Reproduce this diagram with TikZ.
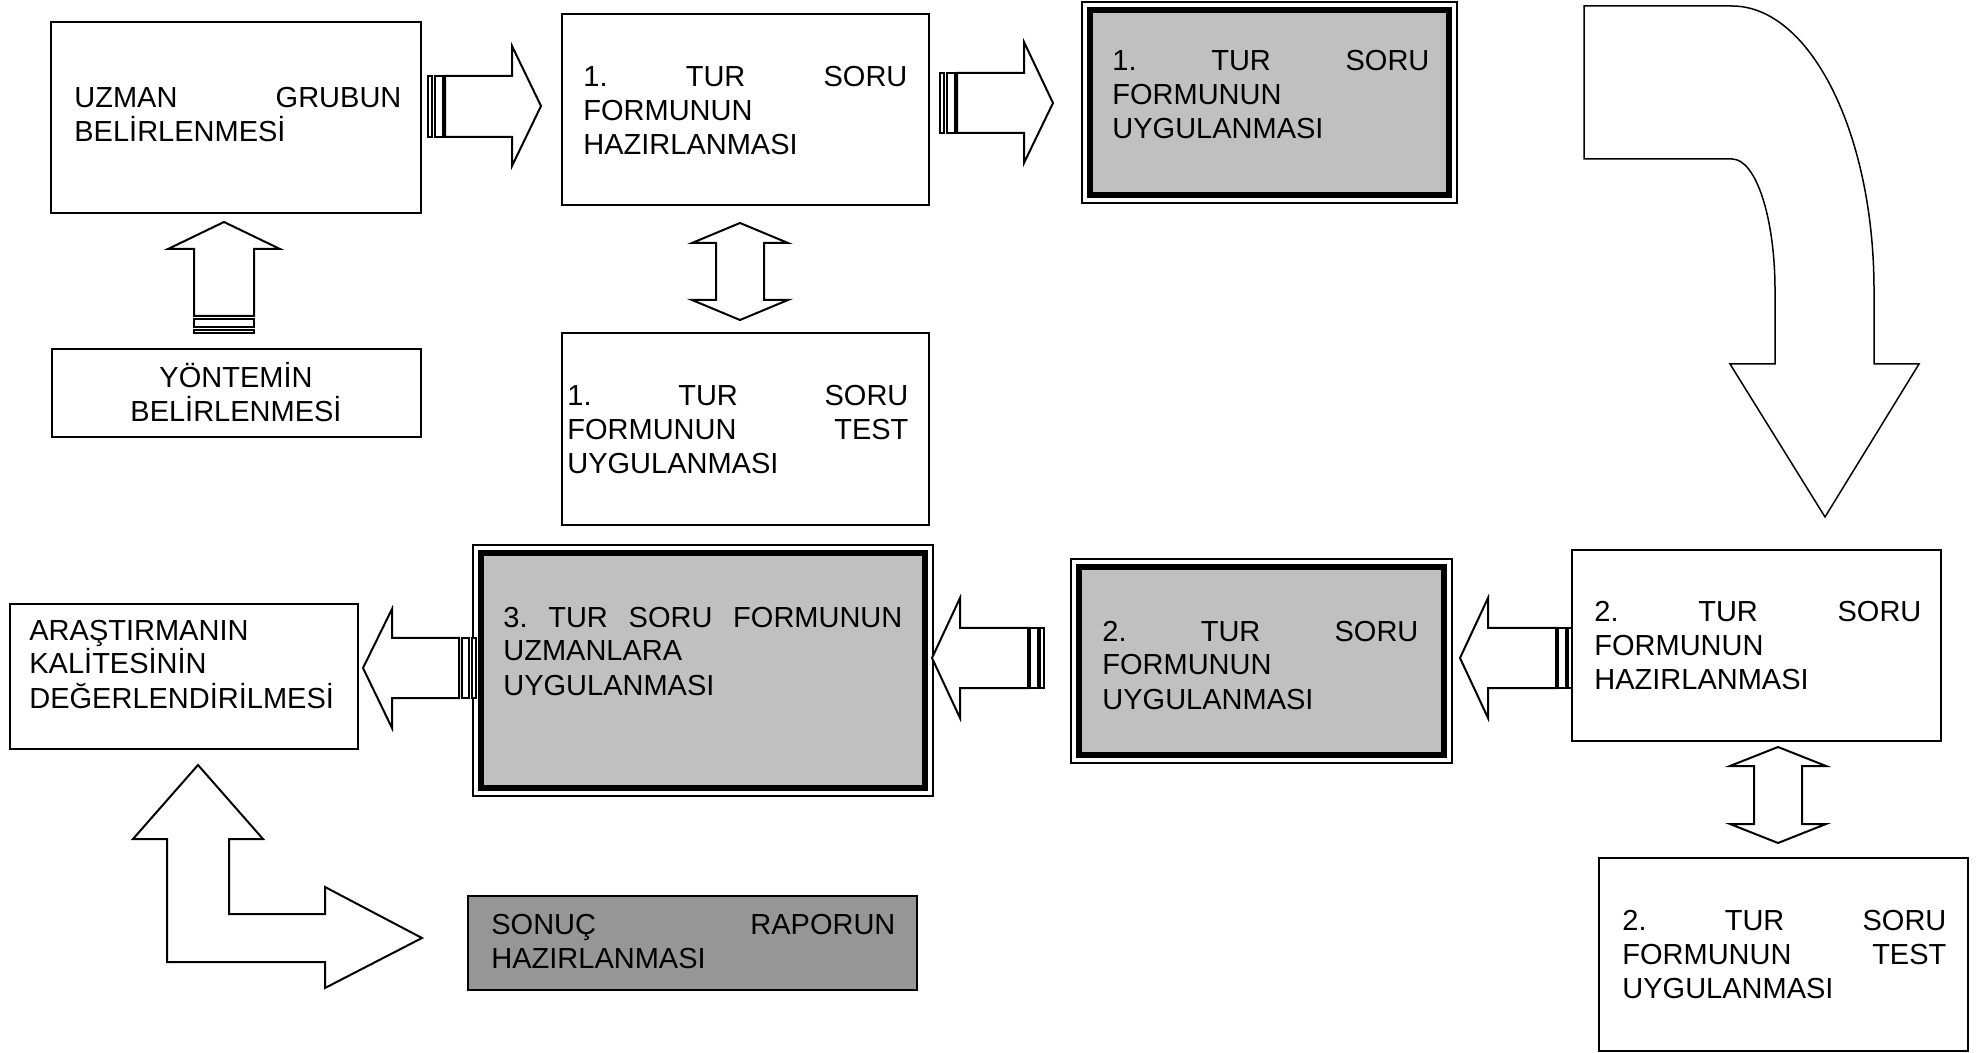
\documentclass[tikz,border=0pt]{standalone}
\usepackage{fontspec}
\setmainfont{Liberation Sans}
\usetikzlibrary{fit}
\definecolor{boxgray}{RGB}{192,192,192}
\definecolor{darkgray}{RGB}{150,150,150}
\tikzset{
  plainbox/.style={draw=black, line width=0.9pt, inner sep=0pt},
  outerbox/.style={draw=black, line width=0.7pt, inner sep=0pt},
  innerbox/.style={draw=black, line width=3pt, fill=boxgray, inner sep=0pt},
  resultbox/.style={draw=black, line width=0.9pt, fill=darkgray, inner sep=0pt},
  txt/.style={inner sep=0pt, anchor=base west, font=\fontsize{14.5pt}{17pt}\selectfont},
  blockarrow/.style={draw=black, line width=1pt, fill=white, line join=miter},
  curvearrow/.style={draw=black, line width=0.75pt, fill=white, line join=miter}
}
\begin{document}
\begin{tikzpicture}[x=0.5pt,y=-0.5pt]
\useasboundingbox (0,0) rectangle (1988,1053);

% ---- boxes ----
\node[plainbox, fit={(51,22) (421,213)}] (uzman) {};
\node[plainbox, fit={(52,349) (421,437)}] (yontem) {};
\node[plainbox, fit={(562,14) (929,205)}] (hazir1) {};
\node[plainbox, fit={(562,333) (929,525)}] (test1) {};
\node[outerbox, fit={(1082,2) (1457,203)}] (uyg1o) {};
\node[innerbox, fit={(1090,10) (1449,195)}] (uyg1) {};
\node[plainbox, fit={(1572,550) (1941,741)}] (hazir2) {};
\node[plainbox, fit={(1599,858) (1968,1051)}] (test2) {};
\node[outerbox, fit={(1071,559) (1452,763)}] (uyg2o) {};
\node[innerbox, fit={(1079,567) (1444,755)}] (uyg2) {};
\node[outerbox, fit={(473,545) (933,796)}] (uyg3o) {};
\node[innerbox, fit={(481,553) (925,788)}] (uyg3) {};
\node[plainbox, fit={(10,604) (358,749)}] (kalite) {};
\node[resultbox, fit={(468,896) (917,990)}] (sonuc) {};

% ---- texts ----
\node[txt, text width=163.5pt] (tuzman) at (74,108) {UZMAN\hfill GRUBUN\\BELİRLENMESİ};
\node[txt, anchor=base, text width=170pt, align=center] (tyontem) at (236,388) {YÖNTEMİN\\BELİRLENMESİ};
\node[txt, text width=162pt] (thazir1) at (583,87) {1.\hfill TUR\hfill SORU\\FORMUNUN\\HAZIRLANMASI};
\node[txt, text width=170.5pt] (ttest1) at (567,406) {1.\hfill TUR\hfill SORU\\FORMUNUN\hfill TEST\\UYGULANMASI};
\node[txt, text width=158.5pt] (tuyg1) at (1112,71) {1.\hfill TUR\hfill SORU\\FORMUNUN\\UYGULANMASI};
\node[txt, text width=163.5pt] (thazir2) at (1594,622) {2.\hfill TUR\hfill SORU\\FORMUNUN\\HAZIRLANMASI};
\node[txt, text width=162pt] (ttest2) at (1622,930) {2.\hfill TUR\hfill SORU\\FORMUNUN\hfill TEST\\UYGULANMASI};
\node[txt, text width=158pt] (tuyg2) at (1102,641) {2.\hfill TUR\hfill SORU\\FORMUNUN\\UYGULANMASI};
\node[txt, text width=199.5pt] (tuyg3) at (503,627) {3.\hfill TUR\hfill SORU\hfill FORMUNUN\\UZMANLARA\\UYGULANMASI};
\node[txt, text width=160pt, align=left] (tkalite) at (29,640) {ARAŞTIRMANIN\\KALİTESİNİN\\DEĞERLENDİRİLMESİ};
\node[txt, text width=202pt] (tsonuc) at (491,934) {SONUÇ\hfill RAPORUN\\HAZIRLANMASI};

% ---- striped right arrow: uzman -> hazir1 ----
\draw[blockarrow] (428,76) rectangle (432,137);
\draw[blockarrow] (435,76) rectangle (443,137);
\draw[blockarrow] (445,76) -- (512,76) -- (512,46) -- (541,106) -- (512,166) -- (512,137) -- (445,137) -- cycle;

% ---- striped right arrow: hazir1 -> uyg1 ----
\draw[blockarrow] (940,73) rectangle (944,133);
\draw[blockarrow] (947,73) rectangle (955,133);
\draw[blockarrow] (957,73) -- (1024,73) -- (1024,42) -- (1053,103) -- (1024,163) -- (1024,133) -- (957,133) -- cycle;

% ---- striped up arrow: yontem -> uzman ----
\draw[blockarrow] (194,316) -- (194,249) -- (168,249) -- (224,222) -- (280,249) -- (254,249) -- (254,316) -- cycle;
\draw[blockarrow] (194,319) rectangle (254,327);
\draw[blockarrow] (194,330) rectangle (254,333);

% ---- double arrow: hazir1 <-> test1 ----
\draw[blockarrow] (740,223) -- (788,243) -- (764,243) -- (764,300) -- (788,300) -- (740,320) -- (692,300) -- (716,300) -- (716,243) -- (692,243) -- cycle;

% ---- curved arrow: uyg1 -> hazir2 ----
\draw[curvearrow] (1584,6) -- (1732,6) .. controls (1810,6) and (1874,133) .. (1874,290) -- (1874,364) -- (1919,364) -- (1825,517) -- (1730,364) -- (1775,364) -- (1775,290) .. controls (1775,218) and (1756,159) .. (1732,159) -- (1584,159) -- cycle;

% ---- double arrow: hazir2 <-> test2 ----
\draw[blockarrow] (1778,747) -- (1826,766) -- (1802,766) -- (1802,824) -- (1826,824) -- (1778,843) -- (1730,824) -- (1754,824) -- (1754,766) -- (1730,766) -- cycle;

% ---- striped left arrow: hazir2 -> uyg2 ----
\draw[blockarrow] (1558,628) rectangle (1566,688);
\draw[blockarrow] (1568,628) rectangle (1572,688);
\draw[blockarrow] (1460,658) -- (1488,598) -- (1488,628) -- (1556,628) -- (1556,688) -- (1488,688) -- (1488,718) -- cycle;

% ---- striped left arrow: uyg2 -> uyg3 ----
\draw[blockarrow] (1030,628) rectangle (1038,688);
\draw[blockarrow] (1040,628) rectangle (1044,688);
\draw[blockarrow] (932,658) -- (960,598) -- (960,628) -- (1028,628) -- (1028,688) -- (960,688) -- (960,718) -- cycle;

% ---- striped left arrow: uyg3 -> kalite ----
\draw[blockarrow] (462,638) rectangle (469,698);
\draw[blockarrow] (472,638) rectangle (476,698);
\draw[blockarrow] (363,668) -- (392,609) -- (392,638) -- (459,638) -- (459,698) -- (392,698) -- (392,728) -- cycle;

% ---- bent arrow: kalite <-> sonuc ----
\draw[blockarrow] (198,765) -- (263,839) -- (229,839) -- (229,914) -- (325,914) -- (325,887) -- (422,938) -- (325,988) -- (325,962) -- (167,962) -- (167,839) -- (133,839) -- cycle;
\end{tikzpicture}
\end{document}
